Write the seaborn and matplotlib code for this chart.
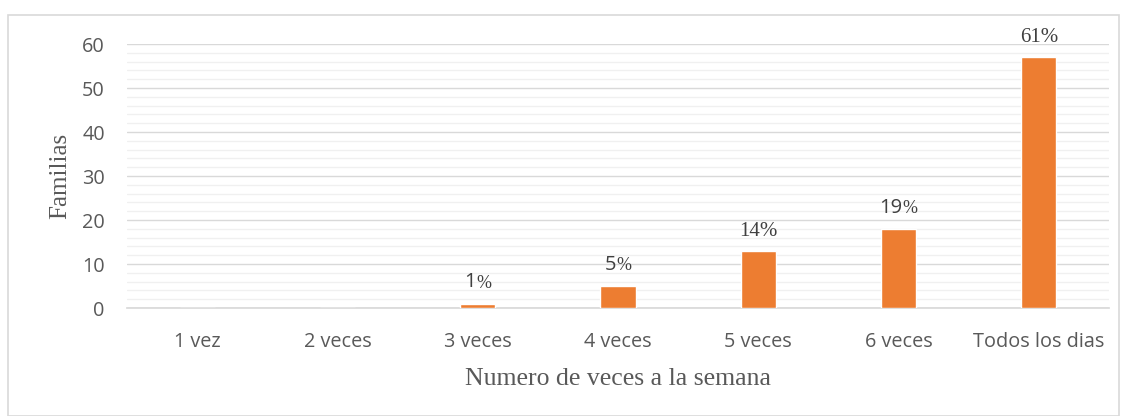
import matplotlib
matplotlib.use("Agg")
import matplotlib.pyplot as plt
from matplotlib.patches import Rectangle
from matplotlib.ticker import MultipleLocator
import seaborn as sns
import pandas as pd

categories = ["1 vez", "2 veces", "3 veces", "4 veces", "5 veces", "6 veces", "Todos los dias"]
values = [0, 0, 1, 5, 13, 18, 57]
label_nums = [None, None, "1", "5", "14", "19", "61"]
label_sans = [False, False, True, True, False, True, False]

sns.set_theme(style="white")
SANS = ["Open Sans", "DejaVu Sans"]
SERIF = ["Liberation Serif", "DejaVu Serif"]

fig = plt.figure(figsize=(11.25, 4.16), dpi=100)
ax = fig.add_axes([127/1125, 1-308/416, (1109-127)/1125, (308-44)/416])

df = pd.DataFrame({"cat": categories, "val": values})
sns.barplot(data=df, x="cat", y="val", color="#ED7D31", saturation=1, width=0.25, ax=ax, zorder=3)

ax.set_ylim(0, 60)
ax.set_xlim(-0.5, 6.5)
ax.yaxis.set_major_locator(MultipleLocator(10))
ax.yaxis.set_minor_locator(MultipleLocator(2))
ax.grid(which="major", axis="y", color="#d9d9d9", linewidth=1.0, zorder=0)
ax.grid(which="minor", axis="y", color="#f0f0f0", linewidth=1.0, zorder=0)
ax.grid(which="major", axis="x", visible=False)
for s in ["top", "right", "left"]:
    ax.spines[s].set_visible(False)
ax.spines["bottom"].set_color("#d9d9d9")
ax.tick_params(axis="both", which="both", length=0, colors="#595959", labelsize=14.3)
ax.tick_params(axis="x", pad=17)
ax.tick_params(axis="y", pad=16)
for lbl in ax.get_xticklabels() + ax.get_yticklabels():
    lbl.set_family(SANS)

ax.set_xlabel("Numero de veces a la semana", family=SERIF, fontsize=18.5, color="#595959", labelpad=12)
ax.set_ylabel("Familias", family=SERIF, fontsize=18, color="#595959", labelpad=8)

fig.canvas.draw()
renderer = fig.canvas.get_renderer()
OFF = 8
for i, (num, sans) in enumerate(zip(label_nums, label_sans)):
    if num is None:
        continue
    y = values[i]
    if sans:
        t1 = ax.annotate(num, (i, y), xytext=(0, OFF), textcoords="offset points",
                         ha="right", va="bottom", family=SANS, fontsize=14.5, color="#404040")
        t2 = ax.annotate("%", (i, y), xytext=(0, OFF), textcoords="offset points",
                         ha="left", va="bottom", family=SERIF, fontsize=13, color="#404040")
        w1 = t1.get_window_extent(renderer).width
        w2 = t2.get_window_extent(renderer).width
        shift = (w1 - w2) / 2 * 72 / fig.dpi
        t1.set_position((shift, OFF))
        t2.set_position((shift, OFF + 0.6))
    else:
        ax.annotate(num + "%", (i, y), xytext=(0, 7), textcoords="offset points",
                    ha="center", va="bottom", family=SERIF, fontsize=15, color="#404040")

fig.patches.append(Rectangle((8/1125, 0), (1119-8)/1125, 1-15/416, transform=fig.transFigure,
                             fill=False, edgecolor="#d9d9d9", linewidth=1.2))

fig.savefig("out.png", dpi=100, facecolor="white")
